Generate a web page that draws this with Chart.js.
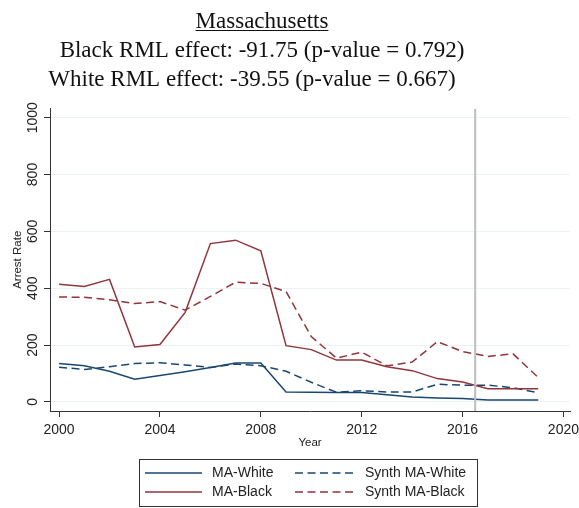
<!DOCTYPE html>
<html>
<head>
<meta charset="utf-8">
<script src="https://cdn.jsdelivr.net/npm/chart.js@4/dist/chart.umd.min.js"></script>
<style>
html,body{margin:0;padding:0;background:#fff;}
#wrap{width:579px;height:508px;position:relative;}
</style>
</head>
<body>
<div id="wrap"><canvas id="c" width="579" height="508"></canvas></div>
<script>
const years = [2000,2001,2002,2003,2004,2005,2006,2007,2008,2009,2010,2011,2012,2013,2014,2015,2016,2017,2018,2019];
const maWhite = [135,127,108,80,93,106,121,137,137,35,34,33,33,25,17,14,12,7,7,7];
const maBlack = [414,406,431,193,202,315,557,569,532,198,184,147,147,124,110,82,70,46,46,46];
const synthWhite = [122,114,124,135,138,130,121,133,127,108,69,34,39,35,35,62,59,59,50,32];
const synthBlack = [369,368,359,346,353,323,371,421,417,388,230,154,175,127,140,212,177,160,169,86];
const xTicks = [2000,2004,2008,2012,2016,2020];
const yTicks = [0,200,400,600,800,1000];
const treatYear = 2016.5;
const titleLines = ["Massachusetts","Black RML effect: -91.75 (p-value = 0.792)","White RML effect: -39.55 (p-value = 0.667)"];
const seriesNames = ["MA-White","MA-Black","Synth MA-White","Synth MA-Black"];

const BLUE = '#1a476f', RED = '#90353b';
const toXY = arr => arr.map((v,i)=>({x:years[i],y:v}));
const ds = (label,arr,color,dash) => ({label,data:toXY(arr),borderColor:color,backgroundColor:color,borderWidth:1.5,borderDash:dash,pointRadius:0,tension:0,fill:false});

const overlay = {
  id:'overlay',
  afterDatasetsDraw(chart){
    const ctx = chart.ctx, xs = chart.scales.x, ca = chart.chartArea;
    ctx.save();
    const tx = xs.getPixelForValue(treatYear);
    ctx.strokeStyle = '#bdbdbd'; ctx.lineWidth = 2;
    ctx.beginPath(); ctx.moveTo(tx, ca.top+1); ctx.lineTo(tx, ca.bottom); ctx.stroke();
    ctx.restore();
  },
  afterDraw(chart){
    const ctx = chart.ctx, xs = chart.scales.x, ys = chart.scales.y, ca = chart.chartArea;
    ctx.save();
    ctx.fillStyle = '#111';
    ctx.textAlign = 'center'; ctx.textBaseline = 'alphabetic';
    ctx.font = '23px "Liberation Serif", serif';
    const cx = [262,262,252], by = [28,57,86];
    titleLines.forEach((t,i)=>{ ctx.fillText(t, cx[i], by[i]); });
    const w0 = ctx.measureText(titleLines[0]).width;
    ctx.strokeStyle = '#111'; ctx.lineWidth = 1;
    ctx.beginPath(); ctx.moveTo(cx[0]-w0/2, 30.5); ctx.lineTo(cx[0]+w0/2, 30.5); ctx.stroke();
    ctx.fillStyle = '#222';
    ctx.font = '14px "Liberation Sans", Arial, sans-serif';
    ctx.textAlign = 'center'; ctx.textBaseline = 'middle';
    yTicks.forEach(v=>{
      const y = ys.getPixelForValue(v);
      ctx.save(); ctx.translate(33, y); ctx.rotate(-Math.PI/2); ctx.fillText(String(v), 0, 0); ctx.restore();
    });
    ctx.font = '11.5px "Liberation Sans", Arial, sans-serif';
    ctx.save(); ctx.translate(18, ys.getPixelForValue(500)); ctx.rotate(-Math.PI/2); ctx.fillText('Arrest Rate', 0, 0); ctx.restore();
    ctx.fillText('Year', (ca.left+ca.right)/2, 443);
    ctx.strokeStyle = '#333'; ctx.lineWidth = 1;
    ctx.strokeRect(139.5, 459.5, 338, 47);
    const order = [0,2,1,3];
    const cols = [{x0:145,x1:202,tx:212},{x0:295,x1:357,tx:365}];
    const rows = [473,492];
    ctx.font = '14px "Liberation Sans", Arial, sans-serif';
    ctx.textAlign = 'left'; ctx.fillStyle = '#222';
    order.forEach((di,k)=>{
      const d = chart.data.datasets[di];
      const c = cols[k%2], r = rows[Math.floor(k/2)];
      ctx.save();
      ctx.strokeStyle = d.borderColor; ctx.lineWidth = 1.5; ctx.setLineDash(d.borderDash||[]);
      ctx.beginPath(); ctx.moveTo(c.x0, r); ctx.lineTo(c.x1, r); ctx.stroke();
      ctx.restore();
      ctx.fillText(d.label, c.tx, r);
    });
    ctx.restore();
  }
};

new Chart(document.getElementById('c'), {
  type:'line',
  data:{datasets:[
    ds(seriesNames[0], maWhite, BLUE, []),
    ds(seriesNames[1], maBlack, RED, []),
    ds(seriesNames[2], synthWhite, BLUE, [8,4.5]),
    ds(seriesNames[3], synthBlack, RED, [8,4.5])
  ]},
  options:{
    responsive:false, animation:false,
    layout:{padding:{top:108,right:9,left:0,bottom:0}},
    plugins:{legend:{display:false},title:{display:false},tooltip:{enabled:false}},
    scales:{
      x:{type:'linear',min:1999.64,max:2020.26,
        afterBuildTicks:s=>{s.ticks = xTicks.map(v=>({value:v}));},
        afterFit:s=>{s.height = 97; s.paddingLeft = 0; s.paddingRight = 0;},
        grid:{drawOnChartArea:false,drawTicks:true,tickLength:6,tickColor:'#333'},
        border:{display:true,color:'#333',width:1},
        ticks:{padding:5,color:'#222',font:{family:'"Liberation Sans", Arial, sans-serif',size:14},callback:v=>String(v),maxRotation:0,minRotation:0}
      },
      y:{type:'linear',min:-32,max:1034,
        afterBuildTicks:s=>{s.ticks = yTicks.map(v=>({value:v}));},
        afterFit:s=>{s.width = 50; s.paddingTop = 0; s.paddingBottom = 0;},
        grid:{color:'#eaf2f3',lineWidth:1,drawTicks:true,tickLength:6,tickColor:'#333'},
        border:{display:true,color:'#333',width:1},
        ticks:{display:false}
      }
    }
  },
  plugins:[overlay]
});
</script>
</body>
</html>
